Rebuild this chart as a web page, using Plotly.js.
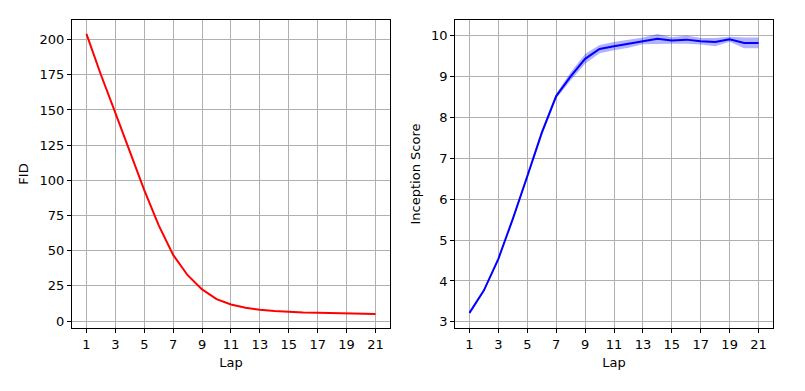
<!DOCTYPE html>
<html><head><meta charset="utf-8">
<script src="https://cdn.plot.ly/plotly-3.0.1.min.js"></script>
<style>body{margin:0;padding:0;background:#fff}#chart{width:805px;height:391px}</style>
</head><body><div id="chart"></div>
<script>
const laps = [1,2,3,4,5,6,7,8,9,10,11,12,13,14,15,16,17,18,19,20,21];
const fid = [204,175,148,121,93,68,47,32.6,22.5,15.6,11.8,9.5,8.0,7.1,6.4,6.1,5.9,5.7,5.4,5.2,5.1];
const isMean = [3.22,3.77,4.54,5.52,6.56,7.62,8.52,9.0,9.43,9.67,9.74,9.80,9.87,9.92,9.88,9.90,9.86,9.84,9.91,9.82,9.82];
const isStd = [0.03,0.03,0.04,0.05,0.06,0.07,0.06,0.1,0.12,0.1,0.1,0.1,0.08,0.12,0.08,0.1,0.08,0.1,0.06,0.13,0.13];
const xTicks = [1,3,5,7,9,11,13,15,17,19,21];

const upper = isMean.map((m,i)=>m+isStd[i]);
const lower = isMean.map((m,i)=>m-isStd[i]);

const font = {family:'DejaVu Sans', size:13, color:'#000'};
const grid = '#b0b0b0';
function ax(extra){
  return Object.assign({
    showline:true, mirror:true, linecolor:'#000', linewidth:1,
    ticks:'outside', ticklen:4, tickcolor:'#000', tickwidth:1,
    showgrid:true, gridcolor:grid, gridwidth:1, zeroline:false,
    tickfont:font
  }, extra);
}
const traces = [
  {x:laps, y:fid, type:'scatter', mode:'lines', line:{color:'#ff0000', width:2}, xaxis:'x', yaxis:'y', showlegend:false},
  {x:laps, y:lower, type:'scatter', mode:'lines', line:{width:0, color:'rgba(0,0,255,0)'}, xaxis:'x2', yaxis:'y2', showlegend:false, hoverinfo:'skip'},
  {x:laps, y:upper, type:'scatter', mode:'lines', line:{width:0, color:'rgba(0,0,255,0)'}, fill:'tonexty', fillcolor:'rgba(0,0,255,0.3)', xaxis:'x2', yaxis:'y2', showlegend:false, hoverinfo:'skip'},
  {x:laps, y:isMean, type:'scatter', mode:'lines', line:{color:'#0000ff', width:2}, xaxis:'x2', yaxis:'y2', showlegend:false}
];
const layout = {
  width:805, height:391,
  margin:{l:72, r:32, t:20, b:63},
  paper_bgcolor:'#fff', plot_bgcolor:'#fff',
  font:font,
  xaxis: ax({domain:[0,0.4536], range:[0,22], tickvals:xTicks, title:{text:'Lap', font:font, standoff:7}}),
  yaxis: ax({range:[-4.9,213.9], tickvals:[0,25,50,75,100,125,150,175,200], title:{text:'FID', font:font, standoff:8}}),
  xaxis2: ax({domain:[0.5464,1], anchor:'y2', range:[0,22], tickvals:xTicks, title:{text:'Lap', font:font, standoff:7}}),
  yaxis2: ax({anchor:'x2', range:[2.85,10.38], tickvals:[3,4,5,6,7,8,9,10], title:{text:'Inception Score', font:font, standoff:7}})
};
Plotly.newPlot('chart', traces, layout, {displayModeBar:false, staticPlot:true});
</script></body></html>
